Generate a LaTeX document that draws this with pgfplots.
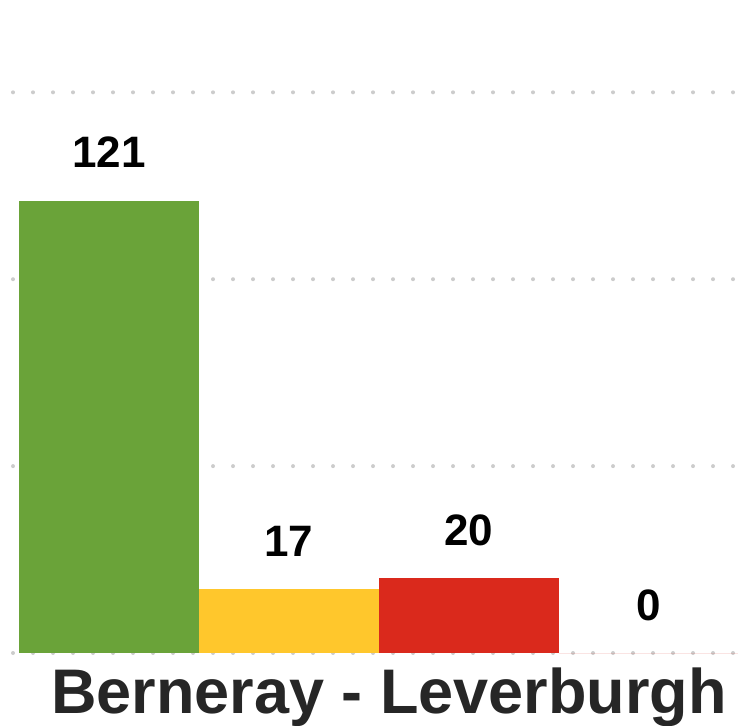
\documentclass[border=0pt]{standalone}
\usepackage{pgfplots}
\pgfplotsset{compat=1.18}
\usepackage{fontspec}
\setmainfont{Liberation Sans}
\definecolor{cgreen}{HTML}{6AA339}
\definecolor{cyellow}{HTML}{FFC72C}
\definecolor{cred}{HTML}{DA291C}
\definecolor{cgrid}{HTML}{CCCCCC}
\definecolor{ctext}{HTML}{262626}
\begin{document}
\begin{tikzpicture}[x=1pt,y=1pt]
\path[use as bounding box] (0,0) rectangle (738,725);
\begin{axis}[
  at={(13pt,72pt)}, anchor=south west,
  scale only axis, width=725pt, height=653pt,
  xmin=-0.533, xmax=3.495, ymin=0, ymax=174.7,
  axis line style={draw=none}, tick style={draw=none},
  xtick=\empty, ytick={0,50,100,150}, yticklabels={},
  ymajorgrids,
  grid style={cgrid, line width=4pt, line cap=round, dash pattern=on 0pt off 20pt},
  ybar, bar width=1,
  every axis plot/.append style={bar shift=0pt, draw=none},
  /pgf/number format/assume math mode=true,
  nodes near coords={\pgfmathprintnumber[assume math mode=true]{\pgfplotspointmeta}},
  nodes near coords style={font=\fontsize{44}{44}\selectfont\bfseries, text=black, anchor=base, yshift=33pt, inner sep=0pt},
  clip=false,
]
\addplot[fill=cgreen] coordinates {(0,121)};
\addplot[fill=cyellow] coordinates {(1,17)};
\addplot[fill=cred] coordinates {(2,20)};
\addplot[fill=cred] coordinates {(3,0)};
\end{axis}
\node[anchor=base, text=ctext, font=\fontsize{63}{63}\selectfont\bfseries, inner sep=0pt] at (389,12) {Berneray - Leverburgh};
\end{tikzpicture}
\end{document}
